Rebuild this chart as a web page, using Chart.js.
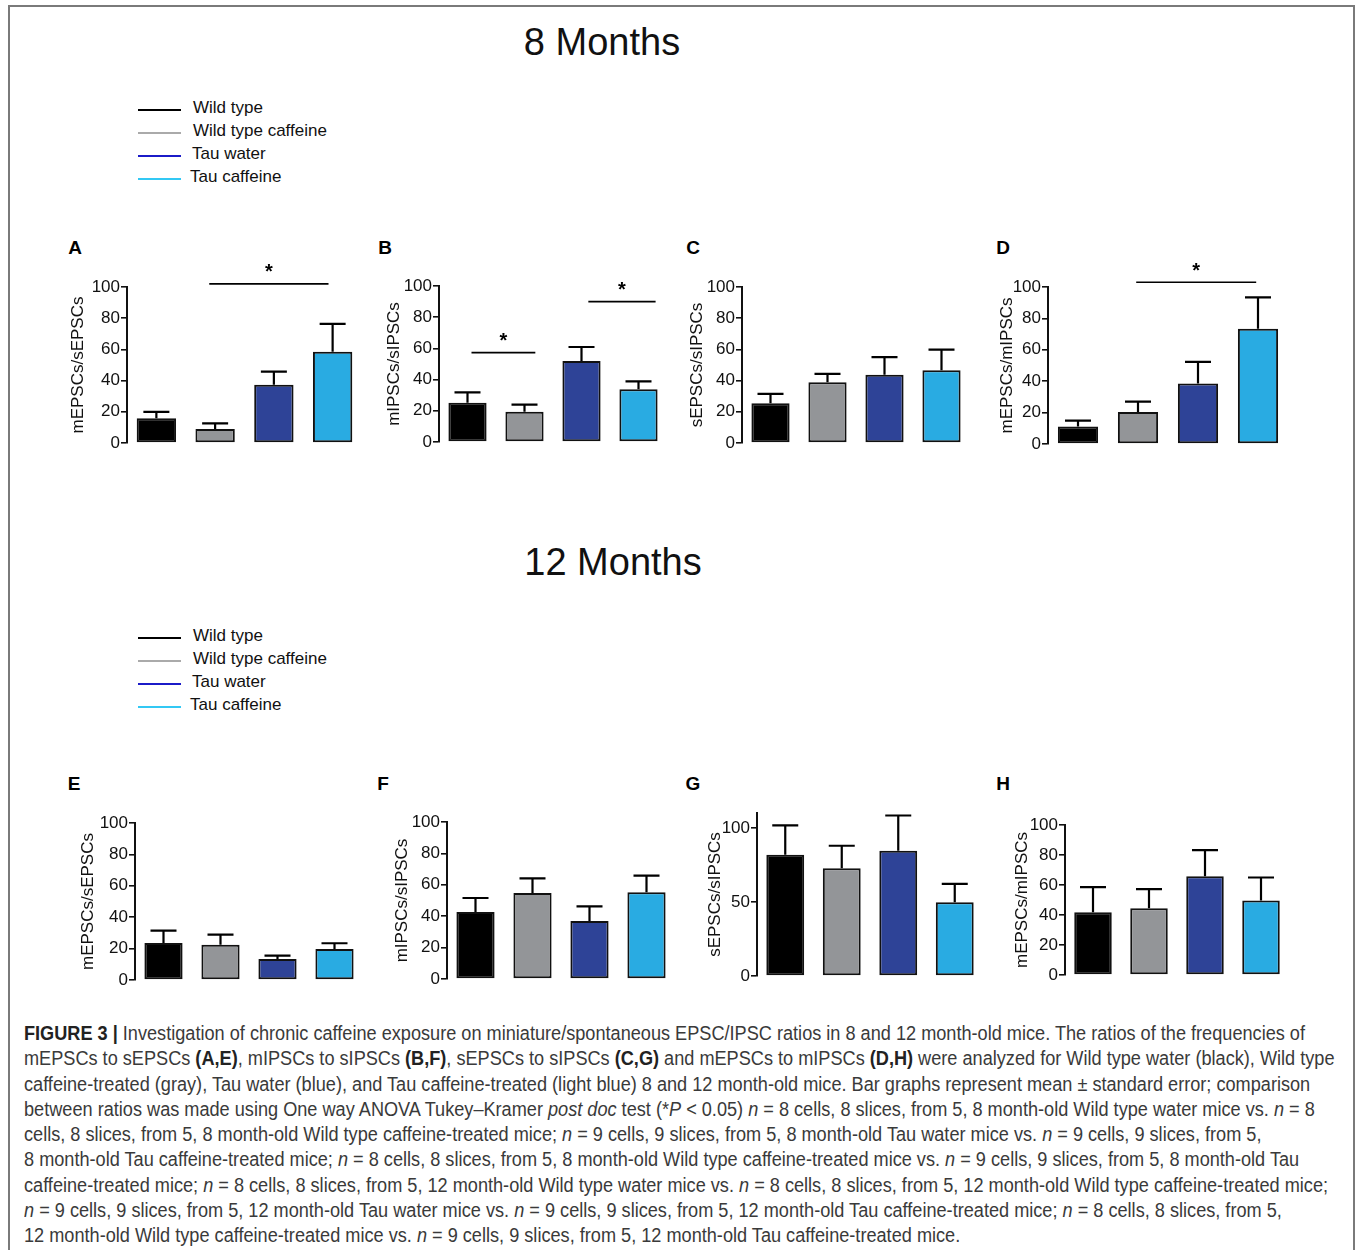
<!DOCTYPE html>
<html>
<head>
<meta charset="utf-8">
<script src="https://cdn.jsdelivr.net/npm/chart.js@4.4.0/dist/chart.umd.min.js"></script>
<style>
  body { margin: 0; background: #fff; font-family: "Liberation Sans", Arial, sans-serif; }
  #page { position: relative; width: 1357px; height: 1250px; overflow: hidden; }
  .frame { position: absolute; left: 8px; top: 5px; width: 1347px; height: 1300px; border: 2px solid #7a7a7a; box-sizing: border-box; }
  .title { position: absolute; font-size: 38px; color: #111; transform: translate(-50%, -50%); white-space: nowrap; }
  .letter { position: absolute; font-size: 19px; font-weight: bold; transform: translate(-50%, -50%); }
  .leg { position: absolute; font-size: 17px; color: #111; white-space: nowrap; }
  .leg .ln { position: absolute; left: 0; width: 43px; height: 1.5px; }
  .leg .tx { position: absolute; transform: translateY(-50%); }
  canvas { position: absolute; }
  #caption { position: absolute; left: 24px; top: 1021px; font-size: 20px; line-height: 25.25px; color: #3a3a3a; white-space: nowrap; transform-origin: 0 0; }
  #caption b { color: #222; }
</style>
</head>
<body>
<div id="page">
  <div class="frame"></div>
  <div class="title" style="left:602px;top:42px;">8 Months</div>
  <div class="title" style="left:613px;top:562px;">12 Months</div>
  <div id="legend1" class="leg" style="left:138px;top:0;"></div>
  <div id="legend2" class="leg" style="left:138px;top:0;"></div>
  <div id="caption">
    <div id="capFirst"><b>FIGURE 3 |</b> Investigation of chronic caffeine exposure on miniature/spontaneous EPSC/IPSC ratios in 8 and 12 month-old mice. The ratios of the frequencies of</div>
    <div>mEPSCs to sEPSCs <b>(A,E)</b>, mIPSCs to sIPSCs <b>(B,F)</b>, sEPSCs to sIPSCs <b>(C,G)</b> and mEPSCs to mIPSCs <b>(D,H)</b> were analyzed for Wild type water (black), Wild type</div>
    <div>caffeine-treated (gray), Tau water (blue), and Tau caffeine-treated (light blue) 8 and 12 month-old mice. Bar graphs represent mean ± standard error; comparison</div>
    <div>between ratios was made using One way ANOVA Tukey–Kramer <i>post doc</i> test (*<i>P</i> &lt; 0.05) <i>n</i> = 8 cells, 8 slices, from 5, 8 month-old Wild type water mice vs. <i>n</i> = 8</div>
    <div>cells, 8 slices, from 5, 8 month-old Wild type caffeine-treated mice; <i>n</i> = 9 cells, 9 slices, from 5, 8 month-old Tau water mice vs. <i>n</i> = 9 cells, 9 slices, from 5,</div>
    <div>8 month-old Tau caffeine-treated mice; <i>n</i> = 8 cells, 8 slices, from 5, 8 month-old Wild type caffeine-treated mice vs. <i>n</i> = 9 cells, 9 slices, from 5, 8 month-old Tau</div>
    <div>caffeine-treated mice; <i>n</i> = 8 cells, 8 slices, from 5, 12 month-old Wild type water mice vs. <i>n</i> = 8 cells, 8 slices, from 5, 12 month-old Wild type caffeine-treated mice;</div>
    <div><i>n</i> = 9 cells, 9 slices, from 5, 12 month-old Tau water mice vs. <i>n</i> = 9 cells, 9 slices, from 5, 12 month-old Tau caffeine-treated mice; <i>n</i> = 8 cells, 8 slices, from 5,</div>
    <div>12 month-old Wild type caffeine-treated mice vs. <i>n</i> = 9 cells, 9 slices, from 5, 12 month-old Tau caffeine-treated mice.</div>
  </div>
</div>
<script>
// groups (categories)
const groups = ['Wild type', 'Wild type caffeine', 'Tau water', 'Tau caffeine'];
const barColors = ['#000000', '#939598', '#2e4397', '#29abe2'];
const legendColors = ['#000000', '#aaaaaa', '#1b1bc8', '#33c8f4'];

// means and standard errors
const meanA = [15.8, 9.0, 37.4, 58.5];
const semA  = [4.1, 3.6, 8.3, 17.8];
const meanB = [25.2, 19.4, 51.9, 33.8];
const semB  = [6.6, 4.5, 9.0, 5.1];
const meanC = [25.5, 38.9, 43.8, 46.6];
const semC  = [6.0, 5.4, 11.3, 13.2];
const meanD = [11.1, 20.4, 38.5, 73.4];
const semD  = [3.8, 6.6, 13.8, 20.0];
const meanE = [23.6, 22.5, 13.4, 19.7];
const semE  = [7.8, 6.4, 2.1, 3.7];
const meanF = [42.7, 54.8, 36.9, 55.2];
const semF  = [8.9, 9.3, 9.4, 10.6];
const meanG = [81.9, 72.7, 84.6, 49.7];
const semG  = [19.7, 15.2, 23.7, 12.5];
const meanH = [41.9, 44.5, 65.9, 49.7];
const semH  = [16.7, 12.7, 17.4, 15.3];

// tick values
const ticks100 = [0, 20, 40, 60, 80, 100];
const ticksG = [0, 50, 100];

// significance brackets: [from group index, to group index, y value]
const sigA = [[0.9, 2.93, 102]];
const sigB = [[0.07, 1.19, 57.3], [2.12, 3.3, 90]];
const sigD = [[0.97, 2.97, 103]];

const yTitles = ['mEPSCs/sEPSCs', 'mIPSCs/sIPSCs', 'sEPSCs/sIPSCs', 'mEPSCs/mIPSCs'];

// panel placement: axis x, plot right, y of max, y of zero, scale width
const panels = [
  { id: 'A', mean: meanA, sem: semA, sig: sigA, title: yTitles[0], ax: 127, right: 362, top: 287, bottom: 443, sw: 63, max: 100, ticks: ticks100, lx: 75, ly: 248 },
  { id: 'B', mean: meanB, sem: semB, sig: sigB, title: yTitles[1], ax: 439, right: 667, top: 286, bottom: 442, sw: 59, max: 100, ticks: ticks100, lx: 385, ly: 248 },
  { id: 'C', mean: meanC, sem: semC, sig: [],   title: yTitles[2], ax: 742, right: 970, top: 287, bottom: 443, sw: 59, max: 100, ticks: ticks100, lx: 693, ly: 248 },
  { id: 'D', mean: meanD, sem: semD, sig: sigD, title: yTitles[3], ax: 1048, right: 1288, top: 287, bottom: 444, sw: 55, max: 100, ticks: ticks100, lx: 1003, ly: 248 },
  { id: 'E', mean: meanE, sem: semE, sig: [],   title: yTitles[0], ax: 135, right: 363, top: 823, bottom: 980, sw: 61, max: 100, ticks: ticks100, lx: 74, ly: 784 },
  { id: 'F', mean: meanF, sem: semF, sig: [],   title: yTitles[1], ax: 447, right: 675, top: 822, bottom: 979, sw: 59, max: 100, ticks: ticks100, lx: 383, ly: 784 },
  { id: 'G', mean: meanG, sem: semG, sig: [],   title: yTitles[2], ax: 757, right: 983, top: 813, bottom: 976, sw: 56, max: 110, ticks: ticksG, lx: 693, ly: 784 },
  { id: 'H', mean: meanH, sem: semH, sig: [],   title: yTitles[3], ax: 1065, right: 1289, top: 825, bottom: 975, sw: 57, max: 100, ticks: ticks100, lx: 1003, ly: 784 }
];

const page = document.getElementById('page');

// legends
function buildLegend(el, yStart) {
  const textX = [55, 55, 54, 52];
  groups.forEach((g, i) => {
    const y = yStart + i * 23;
    const ln = document.createElement('div');
    ln.className = 'ln';
    ln.style.top = (y + 1) + 'px';
    ln.style.background = legendColors[i];
    el.appendChild(ln);
    const tx = document.createElement('div');
    tx.className = 'tx';
    tx.style.left = textX[i] + 'px';
    tx.style.top = y + 'px';
    tx.textContent = g;
    el.appendChild(tx);
  });
}
buildLegend(document.getElementById('legend1'), 108);
buildLegend(document.getElementById('legend2'), 636);

// error bars (upper only) drawn from the bar elements and y scale
const errorBars = {
  id: 'errorBars',
  afterDatasetsDraw(chart) {
    const ctx = chart.ctx;
    const yScale = chart.scales.y;
    const sem = chart.options.plugins.errorBars.sem;
    const meta = chart.getDatasetMeta(0);
    ctx.save();
    ctx.strokeStyle = '#000';
    ctx.lineWidth = 2.2;
    meta.data.forEach((bar, i) => {
      const v = chart.data.datasets[0].data[i];
      const yTop = yScale.getPixelForValue(v + sem[i]);
      ctx.beginPath();
      ctx.moveTo(bar.x, bar.y);
      ctx.lineTo(bar.x, yTop);
      ctx.moveTo(bar.x - 13, yTop);
      ctx.lineTo(bar.x + 13, yTop);
      ctx.stroke();
    });
    ctx.restore();
  }
};

// significance lines with asterisk
const sigLines = {
  id: 'sigLines',
  afterDraw(chart) {
    const list = chart.options.plugins.sigLines.list;
    if (!list.length) return;
    const ctx = chart.ctx;
    const xs = chart.scales.x, ys = chart.scales.y;
    ctx.save();
    ctx.strokeStyle = '#000';
    ctx.fillStyle = '#000';
    ctx.lineWidth = 1.6;
    ctx.font = 'bold 20px "Liberation Sans", Arial';
    ctx.textAlign = 'center';
    ctx.textBaseline = 'middle';
    list.forEach(([a, b, v]) => {
      const x1 = xs.getPixelForValue(a), x2 = xs.getPixelForValue(b);
      const y = ys.getPixelForValue(v);
      ctx.beginPath();
      ctx.moveTo(x1, y);
      ctx.lineTo(x2, y);
      ctx.stroke();
      ctx.fillText('*', (x1 + x2) / 2, y - 11);
    });
    ctx.restore();
  }
};

const padTop = 50, padBottom = 12, padRight = 8;

panels.forEach(p => {
  const letter = document.createElement('div');
  letter.className = 'letter';
  letter.style.left = p.lx + 'px';
  letter.style.top = p.ly + 'px';
  letter.textContent = p.id;
  page.appendChild(letter);

  const canvas = document.createElement('canvas');
  const left = p.ax - p.sw;
  const width = p.right - left + padRight;
  const height = p.bottom - p.top + padTop + padBottom;
  canvas.width = width;
  canvas.height = height;
  canvas.style.left = left + 'px';
  canvas.style.top = (p.top - padTop) + 'px';
  canvas.style.width = width + 'px';
  canvas.style.height = height + 'px';
  page.appendChild(canvas);

  new Chart(canvas.getContext('2d'), {
    type: 'bar',
    data: {
      labels: groups,
      datasets: [{
        data: p.mean,
        backgroundColor: barColors,
        borderColor: '#111',
        borderWidth: 2,
        borderSkipped: false,
        categoryPercentage: 1,
        barPercentage: 0.67
      }]
    },
    options: {
      responsive: false,
      animation: false,
      devicePixelRatio: 1,
      layout: { padding: { top: padTop, bottom: padBottom, left: 0, right: padRight } },
      plugins: {
        legend: { display: false },
        tooltip: { enabled: false },
        errorBars: { sem: p.sem },
        sigLines: { list: p.sig }
      },
      scales: {
        x: { display: false },
        y: {
          min: 0,
          max: p.max,
          bounds: 'data',
          afterFit(scale) { scale.width = p.sw; },
          afterBuildTicks(scale) { scale.ticks = p.ticks.map(v => ({ value: v })); },
          ticks: { color: '#111', padding: 1, font: { size: 17, family: '"Liberation Sans", Arial' } },
          grid: { drawOnChartArea: false, drawTicks: true, tickLength: 6, color: '#111', lineWidth: 1.6 },
          border: { display: true, color: '#111', width: 2 },
          title: { display: true, text: p.title, color: '#111', padding: { top: 4, bottom: 4 }, font: { size: 17, family: '"Liberation Sans", Arial' } }
        }
      }
    },
    plugins: [errorBars, sigLines]
  });
});

// condense caption to the reference line length
const cap = document.getElementById('caption');
const first = document.getElementById('capFirst');
const range = document.createRange();
range.selectNodeContents(first);
const w = range.getBoundingClientRect().width;
cap.style.transform = 'scaleX(' + (1281 / w) + ')';
</script>
</body>
</html>
